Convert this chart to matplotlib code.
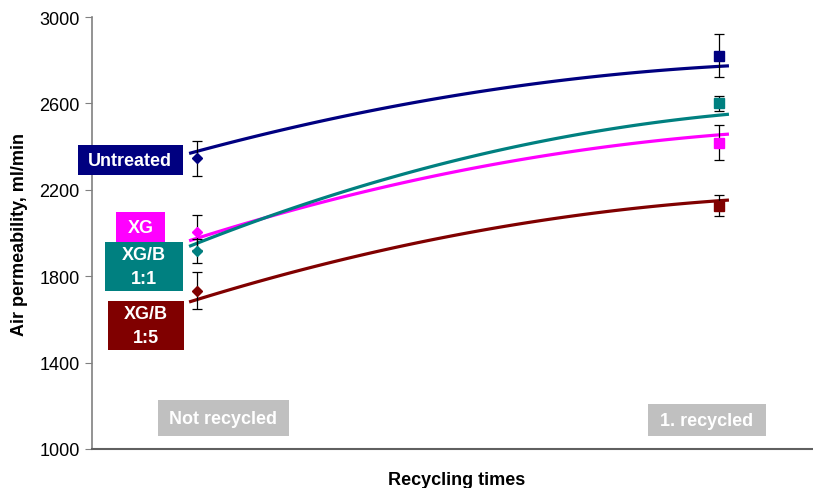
import numpy as np
import matplotlib
matplotlib.use('Agg')
import matplotlib.pyplot as plt
from matplotlib.patches import Rectangle

plt.rcParams['font.family'] = ['Liberation Sans', 'DejaVu Sans']

# measured points: 1 = not recycled, 2 = 1. recycled
groups = ['Untreated', 'XG', 'XG/B\n1:1', 'XG/B\n1:5']
colors = ['#000080', '#FF00FF', '#008080', '#800000']
not_recycled = [2345, 2003, 1918, 1733]
not_recycled_err = [80, 80, 55, 85]
recycled = [2820, 2418, 2600, 2127]
recycled_err = [100, 80, 33, 47]

# trend curves
trend_x = [0.985, 1.111, 1.360, 1.552, 1.772, 2.019]
trend_y = [
    [2370, 2443, 2582, 2659, 2724, 2775],
    [1968, 2050, 2216, 2312, 2394, 2458],
    [1949, 2037, 2250, 2374, 2474, 2548],
    [1679, 1772, 1926, 2011, 2096, 2153],
]

fig = plt.figure(figsize=(8.13, 4.89), dpi=100)
ax = fig.add_axes([92/813, 39/489, 721/813, 432/489])

for i, g in enumerate(groups):
    c = colors[i]
    # trendline (2nd order fit of the read points)
    coef = np.polyfit(trend_x, trend_y[i], 2)
    xx = np.linspace(trend_x[0], trend_x[-1], 100)
    ax.plot(xx, np.polyval(coef, xx), color=c, lw=2.3, zorder=3, solid_capstyle='butt')
    ax.errorbar([1], [not_recycled[i]], yerr=[not_recycled_err[i]], fmt='D', color=c,
                ms=5.5, ecolor='black', elinewidth=0.9, capsize=3.5, capthick=0.9, zorder=4)
    ax.errorbar([2], [recycled[i]], yerr=[recycled_err[i]], fmt='s', color=c,
                ms=7, ecolor='black', elinewidth=0.9, capsize=3.5, capthick=0.9, zorder=4)

ax.set_xlim(0.799, 2.180)
ax.set_ylim(1000, 3000)
ax.set_yticks([1000, 1400, 1800, 2200, 2600, 3000])
ax.set_xticks([])
ax.tick_params(axis='y', length=5, color='#808080', labelsize=13, pad=4)
ax.spines['top'].set_visible(False)
ax.spines['right'].set_visible(False)
ax.spines['left'].set_color('#808080')
ax.spines['bottom'].set_color('#606060')
ax.spines['left'].set_linewidth(1.2)
ax.spines['bottom'].set_linewidth(1.5)

ax.set_ylabel('Air permeability, ml/min', fontsize=13, fontweight='bold')
ax.yaxis.set_label_coords(-0.089, 0.5)
ax.set_xlabel('Recycling times', fontsize=13, fontweight='bold')
ax.xaxis.set_label_coords(0.506, -0.05)

# label boxes (x0, x1, y0, y1)
boxes = [
    ('Untreated', '#000080', 0.772, 0.973, 2268, 2407),
    ('XG', '#FF00FF', 0.845, 0.939, 1958, 2097),
    ('XG/B\n1:1', '#008080', 0.824, 0.973, 1731, 1958),
    ('XG/B\n1:5', '#800000', 0.830, 0.975, 1458, 1685),
    ('Not recycled', '#C0C0C0', 0.925, 1.176, 1060, 1227),
    ('1. recycled', '#C0C0C0', 1.864, 2.090, 1060, 1208),
]
for txt, fc, x0, x1, y0, y1 in boxes:
    ax.add_patch(Rectangle((x0, y0), x1 - x0, y1 - y0, facecolor=fc, edgecolor='none',
                           clip_on=False, zorder=5))
    ax.text((x0 + x1) / 2, (y0 + y1) / 2, txt, color='white', fontsize=13, fontweight='bold',
            ha='center', va='center', linespacing=1.5, zorder=6, clip_on=False)

fig.savefig('out.png', dpi=100)
